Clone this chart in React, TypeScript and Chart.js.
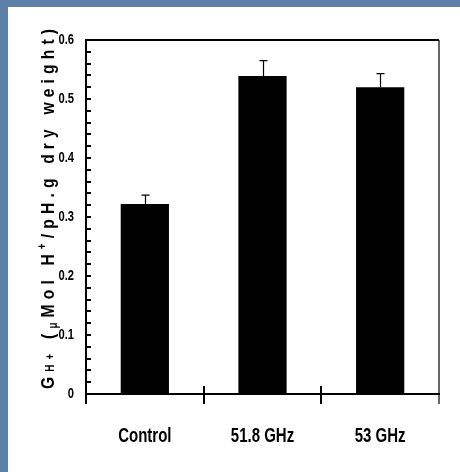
import React, { useEffect, useRef } from 'react';
import { Chart, registerables } from 'chart.js';

Chart.register(...registerables);

const categories = ['Control', '51.8 GHz', '53 GHz'];
const values = [0.322, 0.539, 0.52];
const errors = [0.015, 0.026, 0.023];
const yTickLabels = ['0', '0.1', '0.2', '0.3', '0.4', '0.5', '0.6'];
const yMin = 0;
const yMax = 0.6;
const yMinorStep = 0.02;
const titleParts = [
  { text: 'G', kind: 'normal' },
  { text: 'H+', kind: 'sub' },
  { text: ' (', kind: 'normal' },
  { text: 'μ', kind: 'low' },
  { text: 'Mol H', kind: 'normal' },
  { text: '+', kind: 'sup' },
  { text: '/pH.g dry weight)', kind: 'normal' },
];

const FONT = "'Liberation Sans', Arial, sans-serif";

function drawScaledText(ctx: any, text: string, x: number, y: number, size: number, sx: number, align: string, baseline: string) {
  ctx.save();
  ctx.font = `bold ${size}px ${FONT}`;
  ctx.textAlign = align;
  ctx.textBaseline = baseline;
  ctx.translate(x, y);
  ctx.scale(sx, 1);
  ctx.fillText(text, 0, 0);
  ctx.restore();
}

const decorPlugin = {
  id: 'decor',
  afterDatasetsDraw(chart: any) {
    const ctx = chart.ctx;
    const area = chart.chartArea;
    const x = chart.scales.x;
    const y = chart.scales.y;
    ctx.save();
    ctx.strokeStyle = '#000';
    ctx.fillStyle = '#000';
    // top border
    ctx.lineWidth = 2;
    ctx.beginPath();
    ctx.moveTo(area.left - 1, area.top);
    ctx.lineTo(area.right, area.top);
    ctx.stroke();
    // right border
    ctx.lineWidth = 1.2;
    ctx.beginPath();
    ctx.moveTo(area.right, area.top);
    ctx.lineTo(area.right, area.bottom + 10);
    ctx.stroke();
    // y-axis extension below
    ctx.lineWidth = 2;
    ctx.beginPath();
    ctx.moveTo(area.left, area.bottom);
    ctx.lineTo(area.left, area.bottom + 10);
    ctx.stroke();
    // y ticks inside + labels
    y.ticks.forEach((t: any, i: number) => {
      const py = Math.round(y.getPixelForTick(i));
      ctx.lineWidth = 2;
      ctx.beginPath();
      ctx.moveTo(area.left, py);
      ctx.lineTo(area.left + 5, py);
      ctx.stroke();
      const k = Math.round(t.value * 10);
      if (Math.abs(t.value * 10 - k) < 1e-6) {
        drawScaledText(ctx, yTickLabels[k], area.left - 12, py + 0.5, 14, 0.8, 'right', 'middle');
      }
    });
    // x boundary ticks
    ctx.lineWidth = 2;
    for (let i = 1; i < categories.length; i++) {
      const px = Math.round(x.getPixelForValue(i - 0.5));
      ctx.beginPath();
      ctx.moveTo(px, area.bottom - 8);
      ctx.lineTo(px, area.bottom + 10);
      ctx.stroke();
    }
    // category labels
    categories.forEach((c, i) => {
      drawScaledText(ctx, c, x.getPixelForTick(i), area.bottom + 48, 20, 0.75, 'center', 'alphabetic');
    });
    // error bars
    ctx.lineWidth = 1.2;
    const meta = chart.getDatasetMeta(0);
    meta.data.forEach((el: any, i: number) => {
      const top = y.getPixelForValue(values[i] + errors[i]);
      const cx = Math.round(el.x) + 0.5;
      ctx.beginPath();
      ctx.moveTo(cx, el.y);
      ctx.lineTo(cx, top);
      ctx.moveTo(cx - 4, top);
      ctx.lineTo(cx + 4, top);
      ctx.stroke();
    });
    ctx.restore();
  },
  afterDraw(chart: any) {
    const ctx = chart.ctx;
    const area = chart.chartArea;
    ctx.save();
    const sizes: any = { normal: 19, sub: 12, low: 12, sup: 12 };
    const offs: any = { normal: 0, sub: 0, low: 3, sup: -8 };
    const sx = 0.82;
    let natural = 0;
    let n = 0;
    titleParts.forEach((p) => {
      ctx.font = `bold ${sizes[p.kind]}px ${FONT}`;
      for (const ch of p.text) {
        natural += ctx.measureText(ch).width * sx;
        n++;
      }
    });
    const targetLen = 360;
    const sp = (targetLen - natural) / (n - 1);
    const centerY = (area.top + area.bottom) / 2 - 8;
    ctx.translate(46, centerY + targetLen / 2);
    ctx.rotate(-Math.PI / 2);
    ctx.fillStyle = '#000';
    ctx.textBaseline = 'alphabetic';
    ctx.textAlign = 'left';
    let pos = 0;
    titleParts.forEach((p) => {
      ctx.font = `bold ${sizes[p.kind]}px ${FONT}`;
      for (const ch of p.text) {
        ctx.save();
        ctx.translate(pos, offs[p.kind]);
        ctx.scale(sx, 1);
        ctx.fillText(ch, 0, 0);
        ctx.restore();
        pos += ctx.measureText(ch).width * sx + sp;
      }
    });
    ctx.restore();
  },
};

export default function App() {
  const ref = useRef<HTMLCanvasElement | null>(null);
  useEffect(() => {
    if (!ref.current) return;
    const chart = new Chart(ref.current, {
      type: 'bar',
      data: {
        labels: categories,
        datasets: [
          {
            data: values,
            backgroundColor: '#000',
            borderWidth: 0,
            barPercentage: 0.41,
            categoryPercentage: 1,
          },
        ],
      },
      options: {
        animation: false,
        responsive: false,
        devicePixelRatio: 1,
        layout: { padding: { left: 0, top: 33, right: 21, bottom: 0 } },
        plugins: { legend: { display: false }, tooltip: { enabled: false } },
        scales: {
          x: {
            offset: true,
            grid: { display: false, drawTicks: false },
            border: { display: true, color: '#000', width: 2 },
            ticks: { display: false },
            afterFit: (s: any) => {
              s.height = 78;
            },
          },
          y: {
            min: yMin,
            max: yMax,
            grid: { display: false, drawTicks: false },
            border: { display: true, color: '#000', width: 2 },
            ticks: {
              display: false,
              stepSize: yMinorStep,
              maxTicksLimit: 100,
              autoSkip: false,
            },
            afterFit: (s: any) => {
              s.width = 78;
            },
          },
        },
      } as any,
      plugins: [decorPlugin],
    });
    return () => chart.destroy();
  }, []);
  return (
    <div style={{ position: 'fixed', left: 0, top: 0, width: 460, height: 472, background: '#5d80a9', overflow: 'hidden' }}>
      <div style={{ position: 'absolute', left: 8, top: 7, width: 452, height: 465, background: '#fff' }}>
        <canvas ref={ref} width={452} height={465} style={{ display: 'block', width: 452, height: 465 }} />
      </div>
    </div>
  );
}
